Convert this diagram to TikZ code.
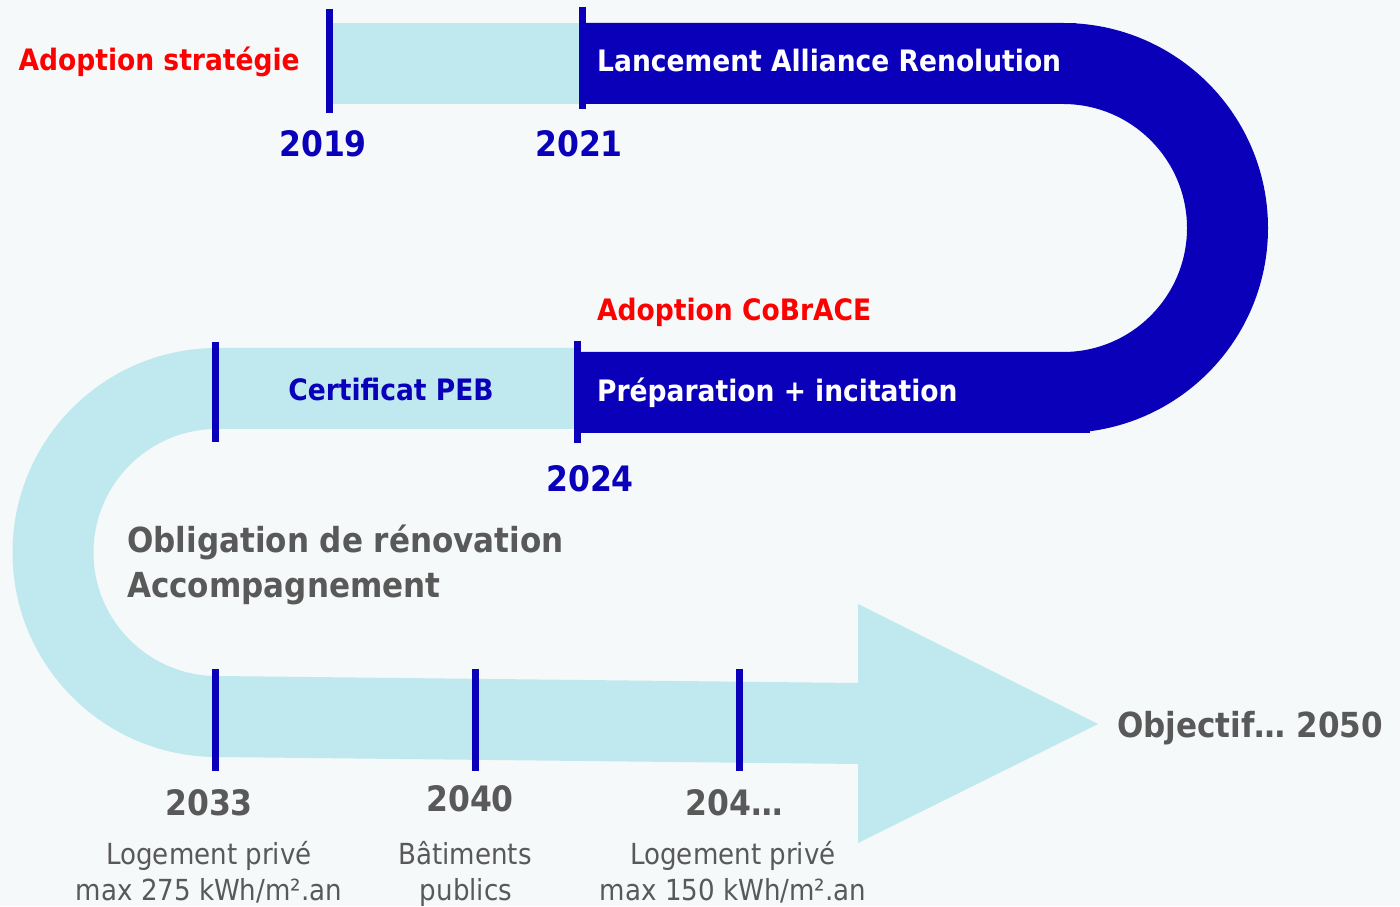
\documentclass[tikz,border=0pt]{standalone}
\usepackage{fontspec}
\setmainfont{DejaVu Sans Condensed}
\definecolor{roiblue}{HTML}{0A00BA}
\definecolor{roicyan}{HTML}{C0E9EF}
\definecolor{roibg}{HTML}{F5F9FA}
\definecolor{roigrey}{HTML}{595959}
\definecolor{roired}{HTML}{FF0000}
\begin{document}
\begin{tikzpicture}[x=1pt,y=1pt,line join=round]
    \tikzset{lbl/.style={inner sep=0pt,font=\bfseries\fontsize{29.5}{34}\selectfont},
             yr/.style={inner sep=0pt,anchor=base,font=\bfseries\fontsize{35}{40}\selectfont},
             big/.style={inner sep=0pt,anchor=base west,text=roigrey,font=\bfseries\fontsize{34.5}{40}\selectfont},
             note/.style={inner sep=0pt,anchor=base,text=roigrey,font=\fontsize{29}{34}\selectfont},
             tick/.style={roiblue,line width=7pt}}
    \def \ringx{1063}
    \def \ringy{678}
    \def \leftx{217}
    \def \lefty{353.5}
    % fond
    \fill[roibg] (0,0) rectangle (1400,906);
    % ruban clair
    \fill[roicyan] (330,802) rectangle (580,883);
    \fill[roicyan] (575,558) -- (\leftx,558) arc[start angle=90,end angle=270,radius=204.5]
        -- (858,142) -- (858,63) -- (1098,182) -- (858,302) -- (858,223)
        -- (\leftx,230) arc[start angle=270,end angle=90,radius=123.5] -- (575,477) -- cycle;
    % ruban fonce
    \fill[roiblue] (580,883) -- (\ringx,883) arc[start angle=90,end angle=-90,radius=205]
        -- (575,473) -- (575,554) -- (\ringx,554) arc[start angle=-90,end angle=90,radius=124]
        -- (580,802) -- cycle;
    \fill[roiblue] (\ringx,473) rectangle (1090,485);
    \fill[roiblue] (\ringx,871) rectangle (1076,883);
    % reperes
    \draw[tick] (329,897)--(329,793);
    \draw[tick] (582,899)--(582,797);
    \draw[tick] (215,564)--(215,464);
    \draw[tick] (577,565)--(577,463);
    \foreach \x in {215,475,739}
        \draw[tick] (\x,237)--(\x,135);
    % textes
    \node[lbl,anchor=base east,text=roired] (strat) at (300,835) {Adoption stratégie};
    \node[lbl,anchor=base west,text=white] (alliance) at (597,834) {Lancement Alliance Renolution};
    \node[yr,text=roiblue] (y2019) at (323,749) {2019};
    \node[yr,text=roiblue] (y2021) at (579,749) {2021};
    \node[lbl,anchor=base west,text=roired] (cobrace) at (597,585) {Adoption CoBrACE};
    \node[lbl,anchor=base,text=roiblue] (peb) at (391,505) {Certificat PEB};
    \node[lbl,anchor=base west,text=white] (prep) at (597,504) {Préparation + incitation};
    \node[yr,text=roiblue] (y2024) at (590,414) {2024};
    \node[big] (oblig) at (127,353) {Obligation de rénovation};
    \node[big] (accomp) at (127,308) {Accompagnement};
    \node[big] (objectif) at (1117,168) {Objectif… 2050};
    \node[yr,text=roigrey] (y2033) at (209,91) {2033};
    \node[yr,text=roigrey] (y2040) at (470,95) {2040};
    \node[yr,text=roigrey] (y204x) at (734,91) {204…};
    \node[note] (prive1) at (209,42) {Logement privé};
    \node[note] (max1) at (209,6) {max 275 kWh/m².an};
    \node[note] (bat) at (465,42) {Bâtiments};
    \node[note] (pub) at (466,6) {publics};
    \node[note] (prive2) at (733,42) {Logement privé};
    \node[note] (max2) at (733,6) {max 150 kWh/m².an};
\end{tikzpicture}
\end{document}
